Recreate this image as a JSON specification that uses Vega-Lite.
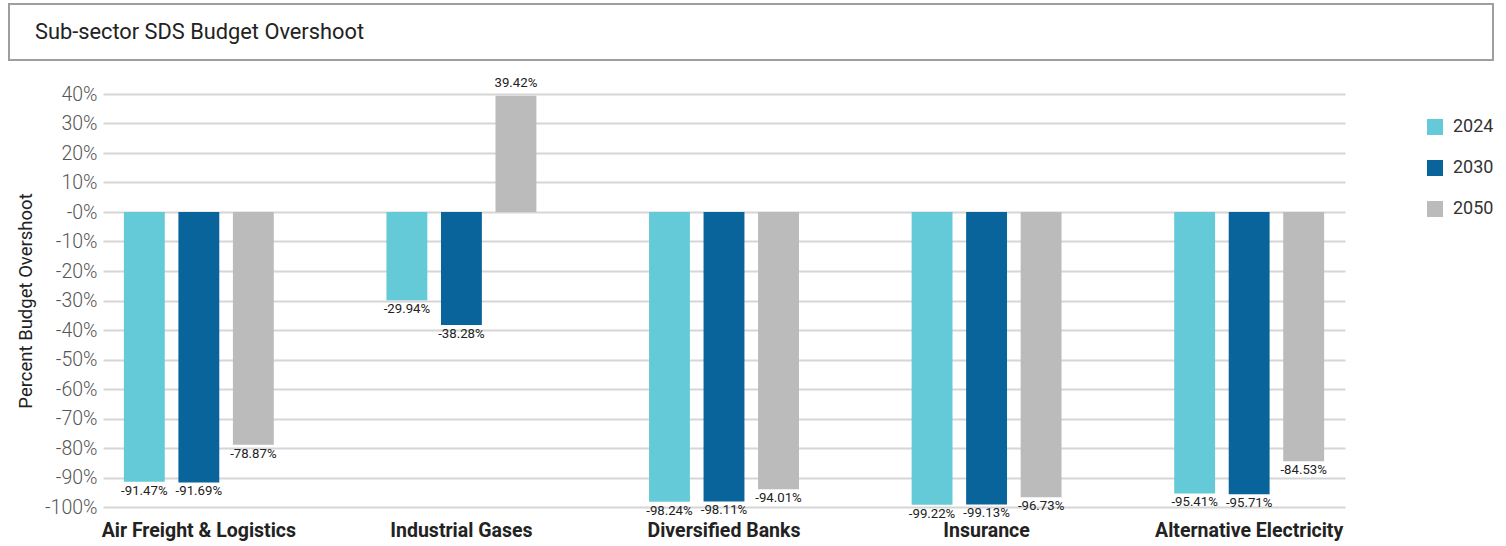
{
  "$schema": "https://vega.github.io/schema/vega-lite/v6.json",
  "padding": {"left": 8, "top": 3, "right": 5, "bottom": 5},
  "background": "white",
  "config": {"font": "Roboto", "view": {"stroke": null}},
  "spacing": 14,
  "resolve": {"legend": {"color": "independent"}, "scale": {"color": "independent"}},
  "vconcat": [
    {
      "width": 1484,
      "height": 56,
      "data": {"values": [{"t": 1}]},
      "title": {"text": "Sub-sector SDS Budget Overshoot", "anchor": "start", "frame": "group", "orient": "top", "offset": -51, "dx": 26, "baseline": "middle", "fontSize": 21.8, "fontWeight": "normal", "color": "#222222", "font": "Roboto"},
      "mark": {"type": "rect", "fill": null, "fillOpacity": 0, "stroke": "#9e9e9e", "strokeWidth": 2},
      "encoding": {}
    },
    {
      "spacing": 0,
      "resolve": {"legend": {"color": "independent"}, "scale": {"color": "independent"}},
      "hconcat": [
        {
          "width": 7,
          "height": 413,
          "data": {"values": [{"t": 1}]},
          "mark": {"type": "rect", "opacity": 0},
          "encoding": {}
        },
        {
          "width": 1242,
          "height": 413,
          "data": {"values": [
            {"sector": "Air Freight & Logistics", "year": "2024", "value": -0.9147},
            {"sector": "Air Freight & Logistics", "year": "2030", "value": -0.9169},
            {"sector": "Air Freight & Logistics", "year": "2050", "value": -0.7887},
            {"sector": "Industrial Gases", "year": "2024", "value": -0.2994},
            {"sector": "Industrial Gases", "year": "2030", "value": -0.3828},
            {"sector": "Industrial Gases", "year": "2050", "value": 0.3942},
            {"sector": "Diversified Banks", "year": "2024", "value": -0.9824},
            {"sector": "Diversified Banks", "year": "2030", "value": -0.9811},
            {"sector": "Diversified Banks", "year": "2050", "value": -0.9401},
            {"sector": "Insurance", "year": "2024", "value": -0.9922},
            {"sector": "Insurance", "year": "2030", "value": -0.9913},
            {"sector": "Insurance", "year": "2050", "value": -0.9673},
            {"sector": "Alternative Electricity", "year": "2024", "value": -0.9541},
            {"sector": "Alternative Electricity", "year": "2030", "value": -0.9571},
            {"sector": "Alternative Electricity", "year": "2050", "value": -0.8453}
          ]},
          "encoding": {
            "x": {
              "field": "sector", "type": "nominal",
              "sort": ["Air Freight & Logistics", "Industrial Gases", "Diversified Banks", "Insurance", "Alternative Electricity"],
              "scale": {"paddingInner": 0.4, "paddingOuter": 0.065},
              "axis": {"title": null, "labelAngle": 0, "labelFontSize": 19.5, "labelFontWeight": "bold", "labelColor": "#222222", "labelPadding": 14, "labelLimit": 0, "ticks": false, "domain": false, "grid": false}
            },
            "xOffset": {"field": "year", "type": "nominal", "scale": {"paddingInner": 0.25, "paddingOuter": 0.07}},
            "y": {
              "field": "value", "type": "quantitative",
              "scale": {"domain": [-1, 0.4], "nice": false, "zero": false},
              "axis": {
                "values": [-1, -0.9, -0.8, -0.7, -0.6, -0.5, -0.4, -0.3, -0.2, -0.1, 0, 0.1, 0.2, 0.3, 0.4],
                "labelExpr": "datum.value == 0 ? '-0%' : replace(format(datum.value, '.0%'), '−', '-')",
                "title": "Percent Budget Overshoot", "titleFontSize": 18.5, "titleFontWeight": "normal", "titleColor": "#222222", "titlePadding": 9,
                "labelFontSize": 19.5, "labelFontWeight": 300, "labelColor": "#555555", "labelPadding": 6,
                "ticks": false, "domain": false, "gridColor": "#d6d6d6", "gridWidth": 2
              }
            }
          },
          "layer": [
            {
              "mark": {"type": "bar"},
              "encoding": {
                "color": {
                  "field": "year", "type": "nominal",
                  "scale": {"domain": ["2024", "2030", "2050"], "range": ["#64cad8", "#09649c", "#bbbbbb"]},
                  "legend": {"title": null, "orient": "none", "legendX": 1323, "legendY": 24, "padding": 0, "symbolType": "square", "symbolSize": 256, "symbolStrokeWidth": 0, "labelFontSize": 18, "labelColor": "#333333", "rowPadding": 23, "labelOffset": 9}
                }
              }
            },
            {
              "transform": [{"filter": "datum.value < 0"}],
              "mark": {"type": "text", "baseline": "top", "dy": 3, "fontSize": 13.2, "color": "#222222", "text": {"expr": "replace(format(datum.value, '.2%'), '−', '-')"}},
              "encoding": {}
            },
            {
              "transform": [{"filter": "datum.value >= 0"}],
              "mark": {"type": "text", "baseline": "bottom", "dy": -6, "fontSize": 13.2, "color": "#222222", "text": {"expr": "replace(format(datum.value, '.2%'), '−', '-')"}},
              "encoding": {}
            }
          ]
        }
      ]
    }
  ]
}
